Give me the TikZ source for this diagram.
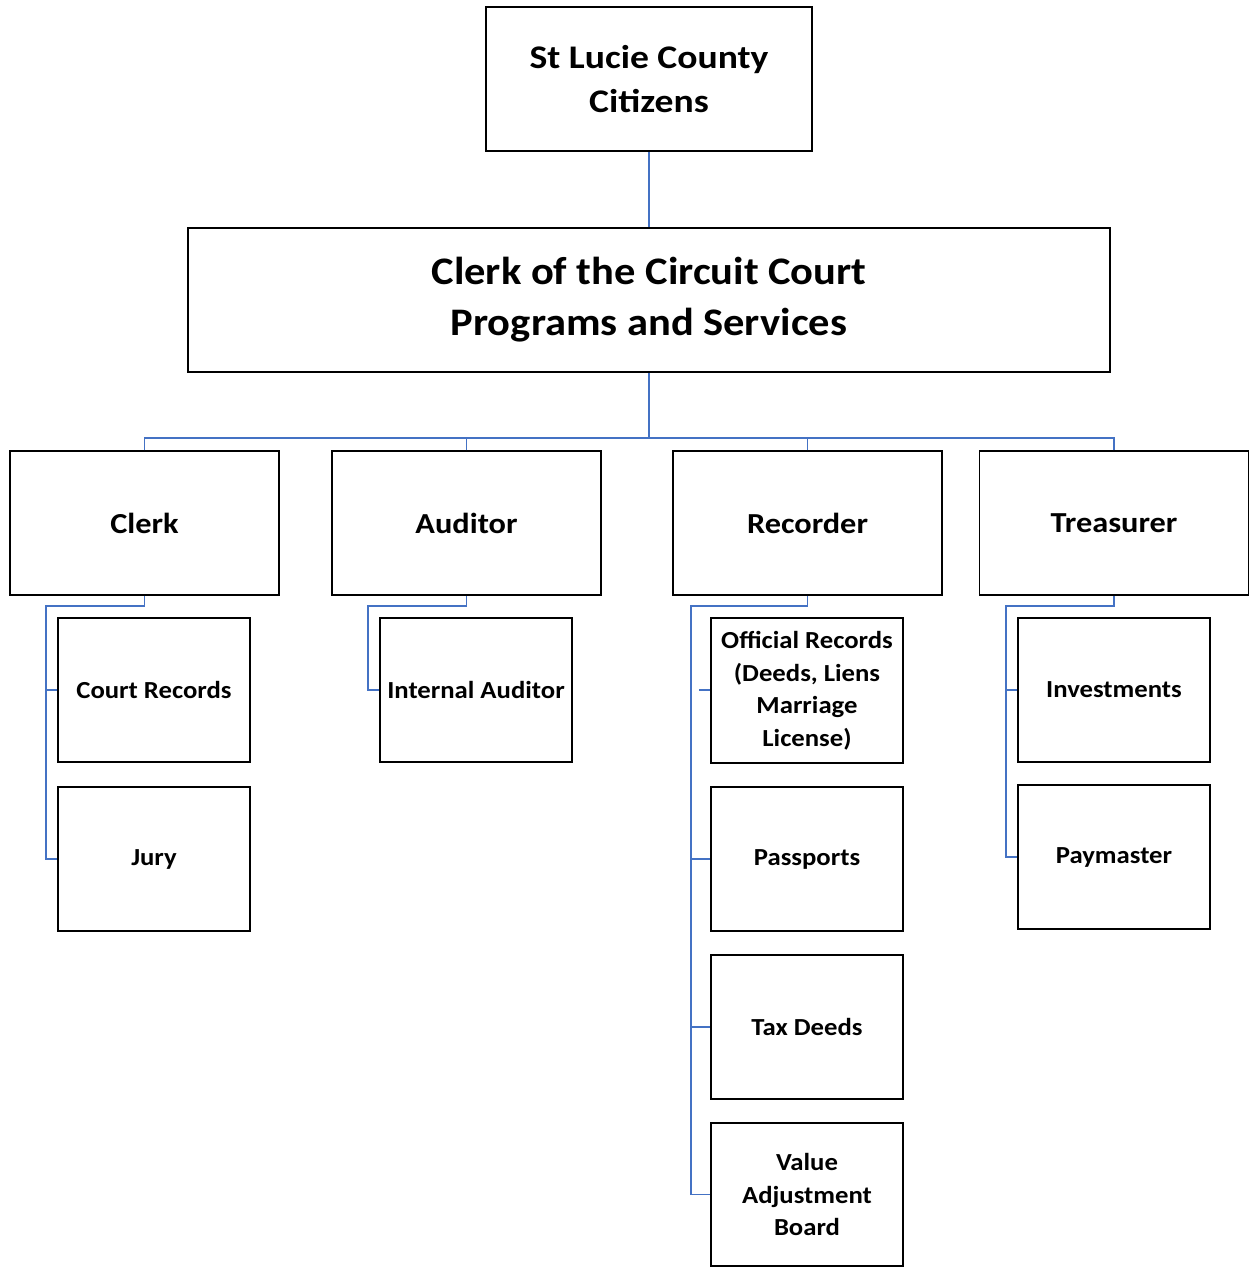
\documentclass[tikz,border=0pt]{standalone}
\usepackage{fontspec}
\setmainfont{Carlito}
\newfontfamily\fontA[FakeStretch=1.14]{Carlito}
\newfontfamily\fontB[FakeStretch=1.09]{Carlito}
\newfontfamily\fontC[FakeStretch=1.115]{Carlito}
\newfontfamily\fontD[FakeStretch=1.09]{Carlito}
\definecolor{conn}{HTML}{4472C4}
\begin{document}
\begin{tikzpicture}[x=1pt,y=-1pt,
  box/.style={draw=black,line width=1.5pt,align=center,inner sep=0pt},
  lvl0/.style={box,minimum width=326pt,minimum height=144pt,font=\fontA\bfseries\fontsize{33}{44}\selectfont},
  lvl1/.style={box,minimum width=922pt,minimum height=144pt,font=\fontB\bfseries\fontsize{39}{51}\selectfont},
  lvl2/.style={box,minimum width=269pt,minimum height=144pt,font=\fontC\bfseries\fontsize{29}{34}\selectfont},
  lvl3/.style={box,minimum width=192pt,minimum height=144pt,font=\fontD\bfseries\fontsize{24.5}{32.5}\selectfont},
  link/.style={draw=conn,line width=1.5pt}]
\useasboundingbox (0,0) rectangle (1249,1267);
\node[lvl0] (top) at (649,79) {St Lucie County\\Citizens};
\node[lvl1] (main) at (649,300) {Clerk of the Circuit Court\\Programs and Services};
\node[lvl2] (clerk) at (144.5,523) {Clerk};
\node[lvl2] (auditor) at (466.5,523) {Auditor};
\node[lvl2] (recorder) at (807.5,523) {Recorder};
\node[lvl2] (treasurer) at (1114,523) {Treasurer};
\node[lvl3] (court) at (154,690) {Court Records};
\node[lvl3] (jury) at (154,859) {Jury};
\node[lvl3] (internal) at (476,690) {Internal Auditor};
\node[lvl3,minimum height=145pt] (official) at (807,690.5) {Official Records\\(Deeds, Liens\\Marriage\\License)};
\node[lvl3] (passports) at (807,859) {Passports};
\node[lvl3] (taxdeeds) at (807,1027) {Tax Deeds};
\node[lvl3,minimum height=143pt] (vab) at (807,1194.5) {Value\\Adjustment\\Board};
\node[lvl3] (invest) at (1114,690) {Investments};
\node[lvl3] (paymaster) at (1114,857) {Paymaster};
% connectors
\coordinate (bus) at (649,438);
\coordinate (clj) at (46,606);
\coordinate (auj) at (368,606);
\coordinate (rej) at (691,606);
\coordinate (trj) at (1006,606);
\coordinate (ofs) at (699,690);
\path[link] (top.south) -- (main.north);
\path[link] (main.south) -- (bus);
\path[link] (clerk.north) |- (bus);
\path[link] (auditor.north) |- (bus);
\path[link] (recorder.north) |- (bus);
\path[link] (treasurer.north) |- (bus);
\path[link] (clerk.south) |- (clj) |- (jury.west);
\path[link] (clj) |- (court.west);
\path[link] (auditor.south) |- (auj) |- (internal.west);
\path[link] (recorder.south) |- (rej) |- (vab.west);
\path[link] (rej) |- (passports.west);
\path[link] (rej) |- (taxdeeds.west);
\path[link] (ofs) -- (ofs -| official.west);
\path[link] (treasurer.south) |- (trj) |- (paymaster.west);
\path[link] (trj) |- (invest.west);
\end{tikzpicture}
\end{document}
